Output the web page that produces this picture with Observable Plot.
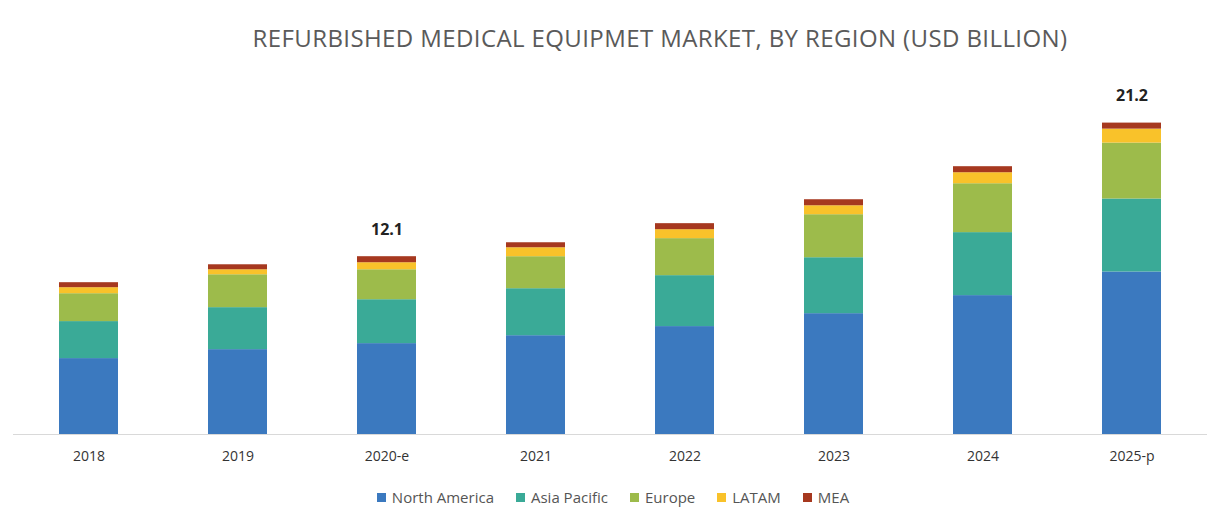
<!DOCTYPE html>
<html>
<head>
<meta charset="utf-8">
<script src="https://cdn.jsdelivr.net/npm/d3@7"></script>
<script src="https://cdn.jsdelivr.net/npm/@observablehq/plot@0.6"></script>
<style>
  html, body { margin: 0; padding: 0; background: #fff; }
  #title { height: 75px; line-height: 76px; text-align: center; padding-left: 94px; box-sizing: border-box; width: 1226px;
           font-family: "Open Sans", sans-serif; font-size: 24px; color: #5a5a5a; letter-spacing: 0.4px; white-space: nowrap; }
  #legend { width: 1226px; display: flex; justify-content: center; gap: 22px; padding-left: 0px; box-sizing: border-box;
            font-family: "Open Sans", sans-serif; font-size: 15px; color: #555; margin-top: 12px; }
  #legend span.item { display: inline-flex; align-items: center; }
  #legend span.sw { width: 9px; height: 9px; display: inline-block; margin-right: 6px; }
</style>
</head>
<body>
<div id="title">REFURBISHED MEDICAL EQUIPMET MARKET, BY REGION (USD BILLION)</div>
<div id="chart"></div>
<div id="legend"></div>
<script>
const years = ["2018", "2019", "2020-e", "2021", "2022", "2023", "2024", "2025-p"];
const regions = ["North America", "Asia Pacific", "Europe", "LATAM", "MEA"];
const northAmerica = [5.17, 5.78, 6.19, 6.73, 7.35, 8.23, 9.46, 11.07];
const asiaPacific  = [2.52, 2.86, 2.99, 3.20, 3.47, 3.81, 4.29, 4.97];
const europe       = [1.90, 2.24, 2.04, 2.18, 2.52, 2.93, 3.33, 3.81];
const latam        = [0.41, 0.34, 0.48, 0.61, 0.61, 0.61, 0.75, 0.95];
const mea          = [0.34, 0.34, 0.41, 0.34, 0.41, 0.41, 0.41, 0.41];
const labelYears = ["2020-e", "2025-p"];
const labelValues = [12.1, 21.2];
const colors = ["#3b79bf", "#3aaa97", "#9dbb4b", "#f9c22a", "#a6381f"];

const series = [northAmerica, asiaPacific, europe, latam, mea];
const rows = [];
years.forEach((y, i) => regions.forEach((r, j) => rows.push({year: y, region: r, value: series[j][i]})));
const labels = labelYears.map((y, i) => ({year: y, value: labelValues[i]}));

const chart = Plot.plot({
  width: 1226,
  height: 400,
  marginLeft: 13,
  marginRight: 19,
  marginTop: 36,
  marginBottom: 41,
  style: {fontFamily: "'Open Sans', sans-serif", background: "#fff"},
  x: {domain: years, paddingInner: 0.605, paddingOuter: 0.3, label: null, tickSize: 0, tickPadding: 17},
  y: {domain: [0, 22], axis: null},
  color: {domain: regions, range: colors},
  marks: [
    Plot.ruleY([0], {stroke: "#d9d9d9", strokeWidth: 1.2, clip: false}),
    Plot.barY(rows, {x: "year", y: "value", fill: "region"}),
    Plot.text(labels, {x: "year", y: "value", text: d => d.value.toFixed(1), dy: -27, fontSize: 16, fontWeight: "bold", fill: "#222"})
  ]
});
chart.querySelectorAll('g[aria-label="x-axis tick label"]').forEach(g => {
  g.setAttribute("font-size", "14");
  g.setAttribute("fill", "#333");
});
document.getElementById("chart").appendChild(chart);

const legend = document.getElementById("legend");
regions.forEach((r, i) => {
  const item = document.createElement("span");
  item.className = "item";
  item.innerHTML = `<span class="sw" style="background:${colors[i]}"></span>${r}`;
  legend.appendChild(item);
});
</script>
</body>
</html>
